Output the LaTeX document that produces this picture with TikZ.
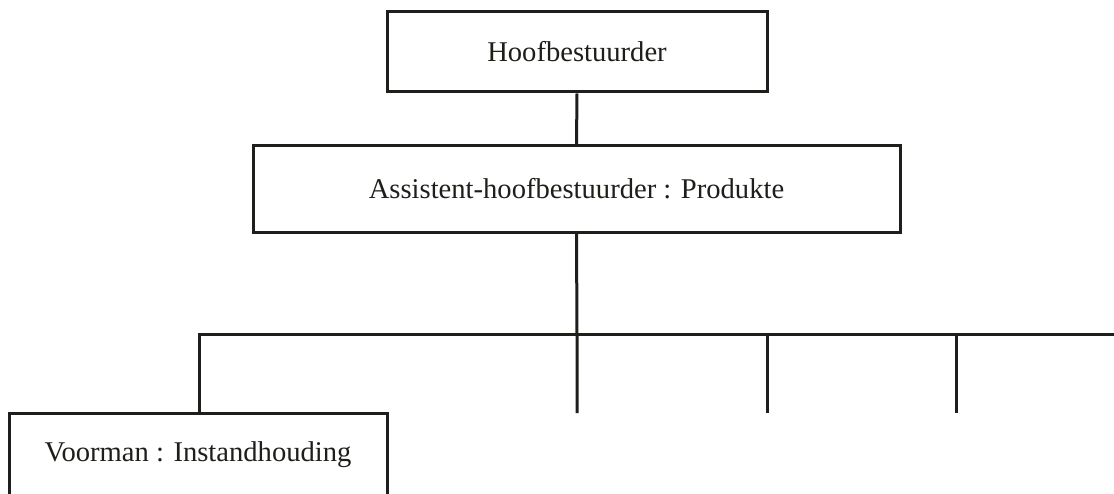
\documentclass[tikz,border=0pt]{standalone}
\usepackage{fontspec}
\setmainfont{Liberation Serif}
\definecolor{ink}{HTML}{1E1E1A}
\begin{document}
\begin{tikzpicture}[x=1pt,y=-1pt,
  orgbox/.style={draw=ink, line width=3pt, fill=white, inner sep=0pt,
    font=\fontsize{28.6}{34}\selectfont, text=ink},
  link/.style={draw=ink, line width=3pt}]
  \useasboundingbox (0,0) rectangle (1114,494);
  % connectors first, so the boxes sit on top of them
  \coordinate (bar) at (577,335);
  \coordinate (barL) at (199,335);
  \coordinate (barR) at (1114,335);
  \coordinate (t3) at (767,335);
  \coordinate (t4) at (956,335);
  \coordinate (d2) at (577,413);
  \coordinate (d3) at (767,413);
  \coordinate (d4) at (956,413);
  % boxes
  \node[orgbox, minimum width=380pt, minimum height=80pt] (hoof) at (577,52) {Hoofbestuurder};
  \node[orgbox, minimum width=647pt, minimum height=87pt] (asst) at (576.5,189) {Assistent-hoofbestuurder : Produkte};
  \node[orgbox, minimum width=378pt, minimum height=83pt] (voor) at (198,454.5) {Voorman : Instandhouding};
  \draw[link] (hoof.south) -- (asst.north);
  \draw[link] (asst.south) -- (bar) -- (d2);
  \draw[link] (voor.north -| barL) -- (barL) -- (barR);
  \draw[link] (t3) -- (d3);
  \draw[link] (t4) -- (d4);
\end{tikzpicture}
\end{document}
